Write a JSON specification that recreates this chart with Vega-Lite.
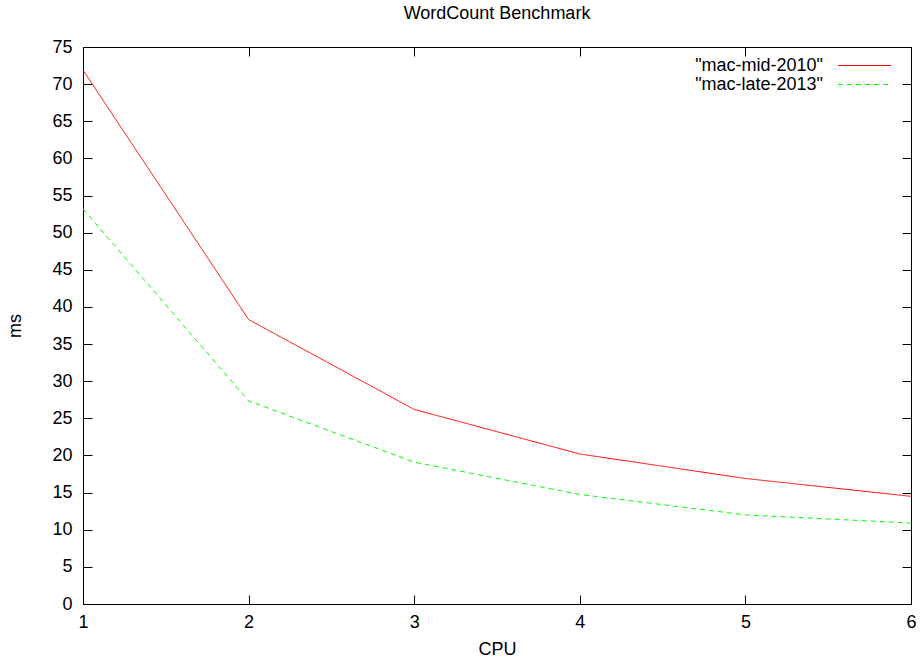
{
  "$schema": "https://vega.github.io/schema/vega-lite/v6.json",
  "autosize": "none",
  "width": 828,
  "height": 557,
  "padding": {"left": 83, "top": 47, "right": 11, "bottom": 61},
  "background": "white",
  "title": {"text": "WordCount Benchmark", "font": "Liberation Sans", "fontSize": 18, "fontWeight": "normal", "color": "black", "offset": 15},
  "config": {
    "view": {"stroke": "black", "strokeWidth": 1},
    "axis": {
      "labelFont": "Liberation Sans", "labelFontSize": 18, "labelColor": "black",
      "titleFont": "Liberation Sans", "titleFontSize": 18, "titleFontWeight": "normal", "titleColor": "black",
      "domainColor": "black", "tickColor": "black", "grid": false,
      "tickSize": -9
    },
    "legend": {
      "labelFont": "Liberation Sans", "labelFontSize": 18, "labelColor": "black"
    }
  },
  "data": {"values": [
    {"cpu": 1, "ms": 71.9, "machine": "\"mac-mid-2010\""},
    {"cpu": 2, "ms": 38.3, "machine": "\"mac-mid-2010\""},
    {"cpu": 3, "ms": 26.2, "machine": "\"mac-mid-2010\""},
    {"cpu": 4, "ms": 20.2, "machine": "\"mac-mid-2010\""},
    {"cpu": 5, "ms": 16.9, "machine": "\"mac-mid-2010\""},
    {"cpu": 6, "ms": 14.5, "machine": "\"mac-mid-2010\""},
    {"cpu": 1, "ms": 53.2, "machine": "\"mac-late-2013\""},
    {"cpu": 2, "ms": 27.35, "machine": "\"mac-late-2013\""},
    {"cpu": 3, "ms": 19.1, "machine": "\"mac-late-2013\""},
    {"cpu": 4, "ms": 14.75, "machine": "\"mac-late-2013\""},
    {"cpu": 5, "ms": 12.0, "machine": "\"mac-late-2013\""},
    {"cpu": 6, "ms": 10.9, "machine": "\"mac-late-2013\""}
  ]},
  "resolve": {"axis": {"x": "independent", "y": "independent"}},
  "layer": [
    {
      "mark": {"type": "line", "strokeWidth": 1},
      "encoding": {
        "x": {"field": "cpu", "type": "quantitative", "title": "CPU",
              "scale": {"domain": [1, 6], "nice": false, "zero": false},
              "axis": {"values": [1, 2, 3, 4, 5, 6], "format": "d", "labelPadding": 18, "titlePadding": 9, "labelFlush": false}},
        "y": {"field": "ms", "type": "quantitative", "title": "ms",
              "scale": {"domain": [0, 75], "nice": false},
              "axis": {"values": [0, 5, 10, 15, 20, 25, 30, 35, 40, 45, 50, 55, 60, 65, 70, 75], "labelPadding": 20, "titlePadding": 27}},
        "color": {"field": "machine", "type": "nominal", "title": null,
                  "scale": {"domain": ["\"mac-mid-2010\"", "\"mac-late-2013\""], "range": ["#ff0000", "#00ff00"]},
                  "legend": {"orient": "none", "legendX": 772, "legendY": 9, "padding": 0,
                             "symbolType": "M-3,0H3", "symbolSize": 312, "symbolStrokeWidth": 1.2,
                             "labelAlign": "right", "labelOffset": -51, "rowPadding": 0}},
        "strokeDash": {"field": "machine", "type": "nominal", "title": null,
                  "scale": {"domain": ["\"mac-mid-2010\"", "\"mac-late-2013\""], "range": [[1, 0], [5, 4]]}}
      }
    },
    {
      "mark": {"type": "line", "opacity": 0},
      "encoding": {
        "x": {"field": "cpu", "type": "quantitative",
              "axis": {"orient": "top", "values": [1, 2, 3, 4, 5, 6], "labels": false, "title": null}},
        "y": {"field": "ms", "type": "quantitative",
              "axis": {"orient": "right", "values": [0, 5, 10, 15, 20, 25, 30, 35, 40, 45, 50, 55, 60, 65, 70, 75], "labels": false, "title": null}},
        "detail": {"field": "machine"}
      }
    }
  ]
}
